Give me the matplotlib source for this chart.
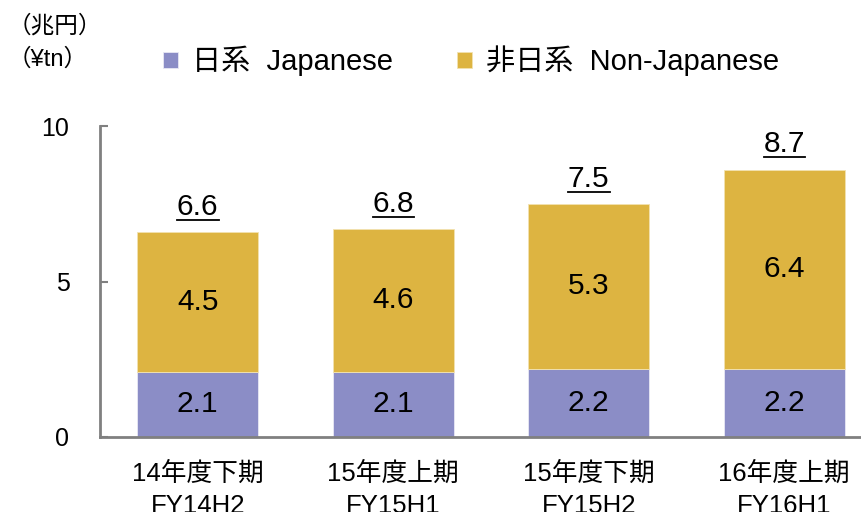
import matplotlib
matplotlib.use("Agg")
import matplotlib.pyplot as plt
from matplotlib.lines import Line2D
import numpy as np

plt.rcParams['font.family'] = ['Liberation Sans', 'Noto Sans CJK JP', 'DejaVu Sans']

periods = ["14年度下期\nFY14H2", "15年度上期\nFY15H1", "15年度下期\nFY15H2", "16年度上期\nFY16H1"]
japanese = [2.1, 2.1, 2.2, 2.2]
non_japanese = [4.5, 4.6, 5.3, 6.4]
totals = [6.6, 6.8, 7.5, 8.7]

c_jp = '#8b8dc6'
c_non = '#ddb441'
grey = '#808080'

fig = plt.figure(figsize=(8.61, 5.12), dpi=100)
ax = fig.add_axes([100 / 861, 1 - 437 / 512, 782 / 861, 311 / 512])

x = np.arange(len(periods))
w = 0.62
b1 = ax.bar(x, japanese, w, color=c_jp, edgecolor='#e8e8f4', linewidth=0.6, label="日系  Japanese")
b2 = ax.bar(x, non_japanese, w, bottom=japanese, color=c_non, edgecolor='#f2e2b0',
            linewidth=0.6, label="非日系  Non-Japanese")

for i in range(len(x)):
    ax.text(x[i], japanese[i] / 2, f"{japanese[i]:.1f}", ha='center', va='center', fontsize=21.5)
    ax.text(x[i], japanese[i] + non_japanese[i] / 2, f"{non_japanese[i]:.1f}",
            ha='center', va='center', fontsize=21.5)

# totals above each bar, underlined
tot_texts = []
for i in range(len(x)):
    top = japanese[i] + non_japanese[i]
    t = ax.annotate(f"{totals[i]:.1f}", (x[i], top), xytext=(0, 8), textcoords='offset points',
                    ha='center', va='bottom', fontsize=21.5)
    tot_texts.append(t)

ax.set_xlim(-0.5, 3.5)
ax.set_ylim(0, 10)
ax.set_yticks([0, 5, 10])
ax.set_xticks(x)
ax.set_xticklabels(periods, fontsize=18.5, linespacing=1.42)
ax.tick_params(axis='x', length=0, pad=18)
ax.tick_params(axis='y', direction='in', length=6, width=1.5, color=grey, labelsize=18, pad=22)
for s in ['top', 'right']:
    ax.spines[s].set_visible(False)
for s in ['left', 'bottom']:
    ax.spines[s].set_color(grey)
    ax.spines[s].set_linewidth(2)

fig.text(8 / 861, 1 - 26 / 512, "（兆円）", fontsize=17, va='center', ha='left')
fig.text(8 / 861, 1 - 59 / 512, "（¥tn）", fontsize=17, va='center', ha='left')

fig.legend(handles=[b1, b2], loc='center left', bbox_to_anchor=(163 / 861, 1 - 61 / 512),
           ncol=2, frameon=False, fontsize=21, handlelength=0.5, handleheight=0.5,
           handletextpad=0.5, columnspacing=2.2, borderaxespad=0, borderpad=0)

fig.canvas.draw()
r = fig.canvas.get_renderer()
for t in tot_texts:
    bb = t.get_window_extent(r)
    y = bb.y0 + 1
    fig.add_artist(Line2D([bb.x0 / fig.bbox.width, bb.x1 / fig.bbox.width],
                          [y / fig.bbox.height, y / fig.bbox.height],
                          transform=fig.transFigure, color='black', linewidth=1.3))

fig.savefig("out.png", dpi=100)
